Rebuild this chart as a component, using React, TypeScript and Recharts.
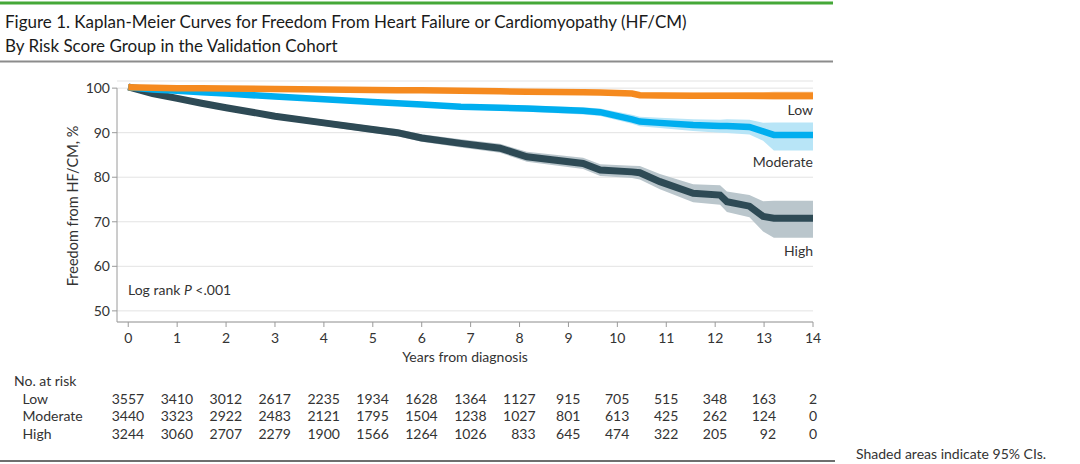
import React from 'react';
import { ComposedChart, Line, Area, XAxis, YAxis, CartesianGrid, ReferenceLine } from 'recharts';

const times = [0, 0.5, 1, 1.5, 2, 3, 4, 5, 5.5, 6, 6.8, 7.6, 8.15, 9.3, 9.65, 10.3, 10.46, 10.87, 11.55, 12.1, 12.24, 12.7, 12.98, 13.2, 14];

const lowSurv = [100.2, 100.1, 100.0, 99.95, 99.9, 99.8, 99.7, 99.6, 99.55, 99.5, 99.4, 99.3, 99.2, 99.1, 99.0, 98.8, 98.4, 98.35, 98.3, 98.3, 98.3, 98.3, 98.3, 98.3, 98.3];
const lowLo = [100.2, 99.95, 99.85, 99.8, 99.7, 99.6, 99.45, 99.3, 99.25, 99.15, 99.0, 98.9, 98.75, 98.6, 98.5, 98.25, 97.85, 97.75, 97.65, 97.6, 97.55, 97.5, 97.45, 97.4, 97.4];
const lowHi = [100.2, 100.2, 100.15, 100.1, 100.05, 100.0, 99.9, 99.85, 99.8, 99.8, 99.75, 99.65, 99.6, 99.55, 99.45, 99.3, 98.95, 98.95, 98.95, 99.0, 99.0, 99.05, 99.1, 99.2, 99.2];

const modSurv = [100.2, 99.7, 99.4, 99.1, 98.8, 98.1, 97.5, 96.9, 96.6, 96.3, 95.8, 95.6, 95.4, 94.9, 94.6, 93.0, 92.5, 92.2, 91.7, 91.5, 91.5, 91.3, 90.3, 89.5, 89.5];
const modLo = [100.2, 99.5, 99.15, 98.8, 98.5, 97.75, 97.1, 96.45, 96.1, 95.75, 95.2, 94.95, 94.7, 94.1, 93.75, 92.0, 91.45, 91.05, 90.4, 90.0, 89.9, 89.6, 88.2, 86.0, 86.0];
const modHi = [100.2, 99.9, 99.65, 99.4, 99.1, 98.45, 97.9, 97.35, 97.1, 96.85, 96.4, 96.25, 96.1, 95.7, 95.45, 94.0, 93.55, 93.35, 93.0, 92.9, 93.0, 92.9, 92.2, 92.3, 92.3];

const highSurv = [100.3, 98.8, 97.7, 96.6, 95.6, 93.7, 92.2, 90.7, 90.0, 88.8, 87.6, 86.5, 84.6, 83.1, 81.6, 81.2, 81.0, 79.0, 76.4, 76.0, 74.5, 73.5, 71.2, 70.8, 70.8];
const highLo = [100.3, 98.45, 97.25, 96.1, 95.05, 93.1, 91.5, 89.95, 89.2, 87.95, 86.7, 85.5, 83.5, 81.85, 80.3, 79.8, 79.5, 77.3, 74.4, 73.8, 72.2, 71.0, 67.8, 66.4, 66.4];
const highHi = [100.3, 99.15, 98.15, 97.1, 96.15, 94.3, 92.9, 91.45, 90.8, 89.65, 88.5, 87.5, 85.7, 84.35, 82.9, 82.6, 82.5, 80.7, 78.4, 78.2, 76.8, 76.0, 74.6, 74.7, 74.7];

const xTicks = [0, 1, 2, 3, 4, 5, 6, 7, 8, 9, 10, 11, 12, 13, 14];
const yTicks = [50, 60, 70, 80, 90, 100];

const riskLow = [3557, 3410, 3012, 2617, 2235, 1934, 1628, 1364, 1127, 915, 705, 515, 348, 163, 2];
const riskModerate = [3440, 3323, 2922, 2483, 2121, 1795, 1504, 1238, 1027, 801, 613, 425, 262, 124, 0];
const riskHigh = [3244, 3060, 2707, 2279, 1900, 1566, 1264, 1026, 833, 645, 474, 322, 205, 92, 0];

const W = 1080;
const H = 464;
const MARGIN = { top: 81, right: 267, bottom: 112, left: 0 };
const Y_AXIS_W = 117;
const X_AXIS_H = 30;
const X_MIN = -0.23;
const X_MAX = 14;
const Y_MIN = 47.5;
const Y_MAX = 101.6;

const PLOT_LEFT = MARGIN.left + Y_AXIS_W;
const PLOT_W = W - MARGIN.right - PLOT_LEFT;

const FONT = 'Lato, "Open Sans", sans-serif';
const TEXT = '#333';
const ORANGE = '#F58A1F';
const BLUE = '#00AEEF';
const SLATE = '#2E4A55';

// x position for the at-risk table columns, same scale as the chart axis
const xPx = (t: number) => PLOT_LEFT + ((t - X_MIN) / (X_MAX - X_MIN)) * PLOT_W;

const chartData = times.map((t, i) => ({
  t,
  low: lowSurv[i],
  lowCi: [lowLo[i], lowHi[i]],
  moderate: modSurv[i],
  moderateCi: [modLo[i], modHi[i]],
  high: highSurv[i],
  highCi: [highLo[i], highHi[i]],
}));

const riskRows = [
  { label: 'Low', values: riskLow, y: 403.5 },
  { label: 'Moderate', values: riskModerate, y: 421 },
  { label: 'High', values: riskHigh, y: 438.5 },
];

const DIGIT_W = 8;

const App: React.FC = () => {
  return (
    <div style={{ position: 'absolute', left: 0, top: 0, width: W, height: H, background: '#fff', fontFamily: FONT }}>
      <svg width={W} height={H} style={{ position: 'absolute', left: 0, top: 0 }}>
        <rect x={0} y={1.5} width={833} height={3} fill="#45A838" />
        <text x={5} y={28} fontSize={17} fill="#1a1a1a" fontFamily={FONT}>
          Figure 1. Kaplan-Meier Curves for Freedom From Heart Failure or Cardiomyopathy (HF/CM)
        </text>
        <text x={5} y={52} fontSize={17} fill="#1a1a1a" fontFamily={FONT}>
          By Risk Score Group in the Validation Cohort
        </text>
        <rect x={0} y={60.5} width={833} height={2} fill="#8c8c8c" />

        <text
          transform="translate(78,206) rotate(-90)"
          textAnchor="middle"
          fontSize={14.5}
          fill={TEXT}
          fontFamily={FONT}
        >
          Freedom from HF/CM, %
        </text>
        <text x={465} y={362} textAnchor="middle" fontSize={14} fill={TEXT} fontFamily={FONT}>
          Years from diagnosis
        </text>

        <text x={128} y={295} fontSize={14} fill={TEXT} fontFamily={FONT}>
          Log rank <tspan fontStyle="italic">P</tspan>{' <.001'}
        </text>
        <text x={813} y={115} textAnchor="end" fontSize={14} fill={TEXT} fontFamily={FONT}>Low</text>
        <text x={813} y={166.5} textAnchor="end" fontSize={14} fill={TEXT} fontFamily={FONT}>Moderate</text>
        <text x={813} y={256} textAnchor="end" fontSize={14} fill={TEXT} fontFamily={FONT}>High</text>

        <text x={14} y={386} fontSize={14} fill={TEXT} fontFamily={FONT}>No. at risk</text>
        {riskRows.map((row) => (
          <g key={row.label}>
            <text x={22.5} y={row.y} fontSize={14} fill={TEXT} fontFamily={FONT}>{row.label}</text>
            {row.values.map((v, i) => {
              const widest = Math.max(
                String(riskLow[i]).length,
                String(riskModerate[i]).length,
                String(riskHigh[i]).length,
              );
              return (
                <text
                  key={i}
                  x={xPx(xTicks[i]) + (widest * DIGIT_W) / 2}
                  y={row.y}
                  textAnchor="end"
                  fontSize={14}
                  fill={TEXT}
                  fontFamily={FONT}
                  style={{ fontVariantNumeric: 'tabular-nums' }}
                >
                  {v}
                </text>
              );
            })}
          </g>
        ))}

        <rect x={0} y={460} width={835} height={2} fill="#6e6e6e" />
        <text x={856} y={459} fontSize={14} fill={TEXT} fontFamily={FONT}>
          Shaded areas indicate 95% CIs.
        </text>
      </svg>

      <div style={{ position: 'absolute', left: 0, top: 0 }}>
        <ComposedChart width={W} height={H} data={chartData} margin={MARGIN} style={{ fontFamily: FONT }}>
          <CartesianGrid vertical={false} stroke="#e3e3e3" />
          <XAxis
            dataKey="t"
            type="number"
            domain={[X_MIN, X_MAX]}
            ticks={xTicks}
            height={X_AXIS_H}
            allowDataOverflow
            stroke="#9a9a9a"
            tickSize={5}
            tickMargin={6}
            tick={{ fill: TEXT, fontSize: 14 }}
            interval={0}
          />
          <YAxis
            type="number"
            domain={[Y_MIN, Y_MAX]}
            ticks={yTicks}
            width={Y_AXIS_W}
            allowDataOverflow
            axisLine={false}
            tickLine={{ stroke: '#9a9a9a' }}
            tickSize={5}
            tick={{ fill: TEXT, fontSize: 14 }}
            interval={0}
          />
          <ReferenceLine
            segment={[{ x: X_MIN, y: Y_MIN }, { x: X_MIN, y: 100 }]}
            stroke="#9a9a9a"
            ifOverflow="visible"
          />

          <Area dataKey="highCi" type="linear" stroke="none" fill="#BAC6CC" fillOpacity={1} isAnimationActive={false} />
          <Area dataKey="moderateCi" type="linear" stroke="none" fill="#B8E5F7" fillOpacity={1} isAnimationActive={false} />
          <Area dataKey="lowCi" type="linear" stroke="none" fill="#F9C48F" fillOpacity={1} isAnimationActive={false} />

          <Line dataKey="high" type="linear" stroke={SLATE} strokeWidth={7} dot={false} activeDot={false} isAnimationActive={false} />
          <Line dataKey="moderate" type="linear" stroke={BLUE} strokeWidth={6.5} dot={false} activeDot={false} isAnimationActive={false} />
          <Line dataKey="low" type="linear" stroke={ORANGE} strokeWidth={6.5} dot={false} activeDot={false} isAnimationActive={false} />
        </ComposedChart>
      </div>
    </div>
  );
};

export default App;
